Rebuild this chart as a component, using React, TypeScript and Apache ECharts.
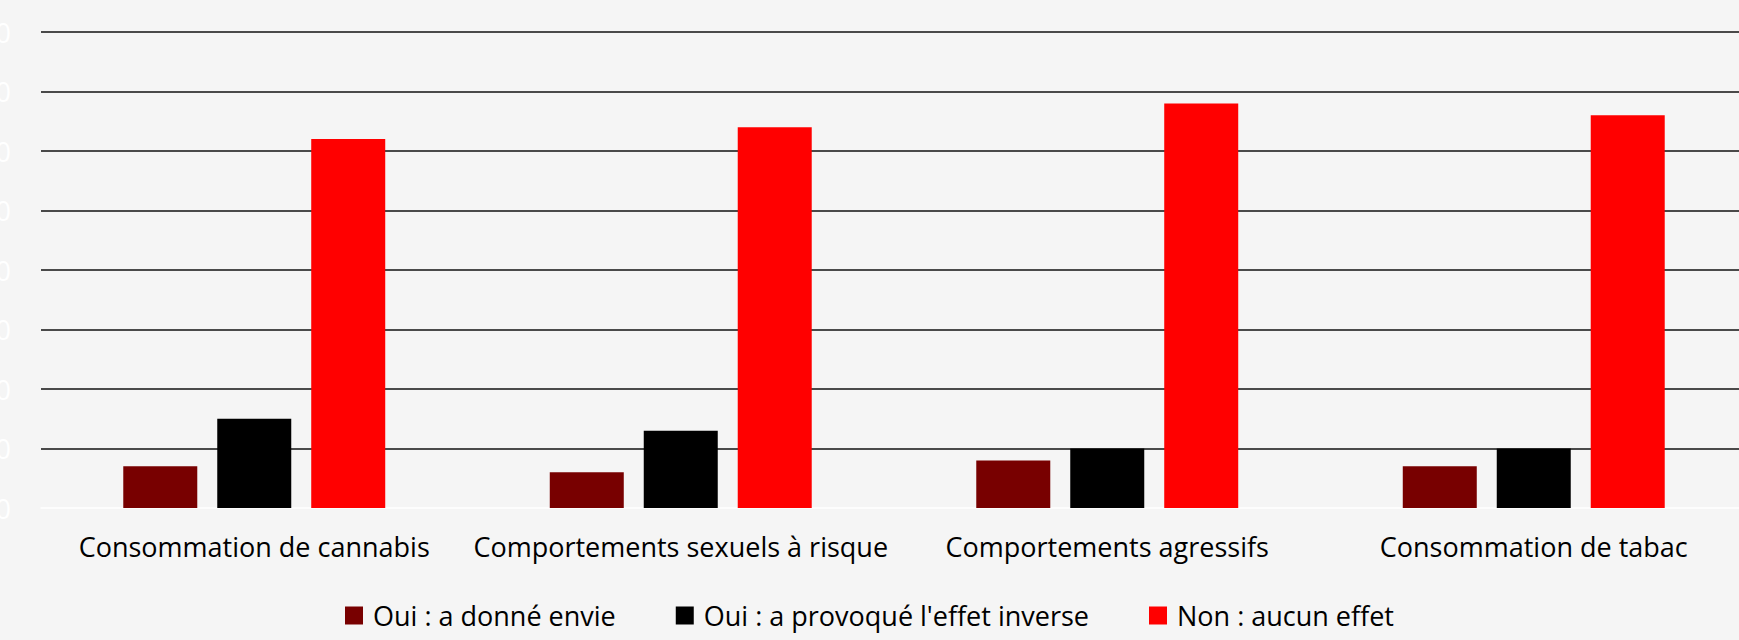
import React, { useEffect, useRef } from "react";
import * as echarts from "echarts";

const categories = [
  "Consommation de cannabis",
  "Comportements sexuels à risque",
  "Comportements agressifs",
  "Consommation de tabac",
];
const seriesNames = [
  "Oui : a donné envie",
  "Oui : a provoqué l'effet inverse",
  "Non : aucun effet",
];
const donneEnvie = [7, 6, 8, 7];
const effetInverse = [15, 13, 10, 10];
const aucunEffet = [62, 64, 68, 66];
const colors = ["#780000", "#000000", "#ff0000"];

const FONT = "'Open Sans', 'Noto Sans', sans-serif";

export default function App() {
  const ref = useRef<HTMLDivElement>(null);
  useEffect(() => {
    if (!ref.current) return;
    const chart = echarts.init(ref.current, null, { renderer: "svg" });
    const values = [donneEnvie, effetInverse, aucunEffet];
    chart.setOption({
      animation: false,
      backgroundColor: "#f5f5f5",
      textStyle: { fontFamily: FONT },
      grid: {
        left: 41,
        right: -8,
        top: 32,
        bottom: 132,
        containLabel: false,
        outerBoundsMode: "none",
      },
      legend: {
        top: 597,
        left: "center",
        itemWidth: 18,
        itemHeight: 18,
        itemGap: 60,
        icon: "rect",
        textStyle: {
          fontFamily: FONT,
          fontSize: 27,
          color: "#000",
          padding: [0, 0, 0, 5],
        },
        data: seriesNames,
      },
      xAxis: {
        type: "category",
        data: categories,
        axisLine: { show: true, lineStyle: { color: "#ffffff", width: 1.5 } },
        axisTick: { show: false },
        axisLabel: {
          color: "#000",
          fontSize: 27,
          fontFamily: FONT,
          margin: 25,
          interval: 0,
        },
      },
      yAxis: {
        type: "value",
        min: 0,
        max: 80,
        interval: 10,
        axisLine: { show: false },
        axisTick: { show: false },
        axisLabel: { color: "#ffffff", fontSize: 27, fontFamily: FONT, margin: 30 },
        splitLine: {
          show: true,
          showMinLine: false,
          lineStyle: { color: "#111", width: 1.5 },
        },
      },
      series: seriesNames.map((name, i) => ({
        name,
        type: "bar",
        data: values[i],
        barWidth: 74,
        barGap: "27%",
        itemStyle: { color: colors[i] },
      })),
    });
    return () => chart.dispose();
  }, []);
  return (
    <div
      ref={ref}
      style={{ position: "fixed", left: 0, top: 0, width: 1739, height: 640 }}
    />
  );
}
